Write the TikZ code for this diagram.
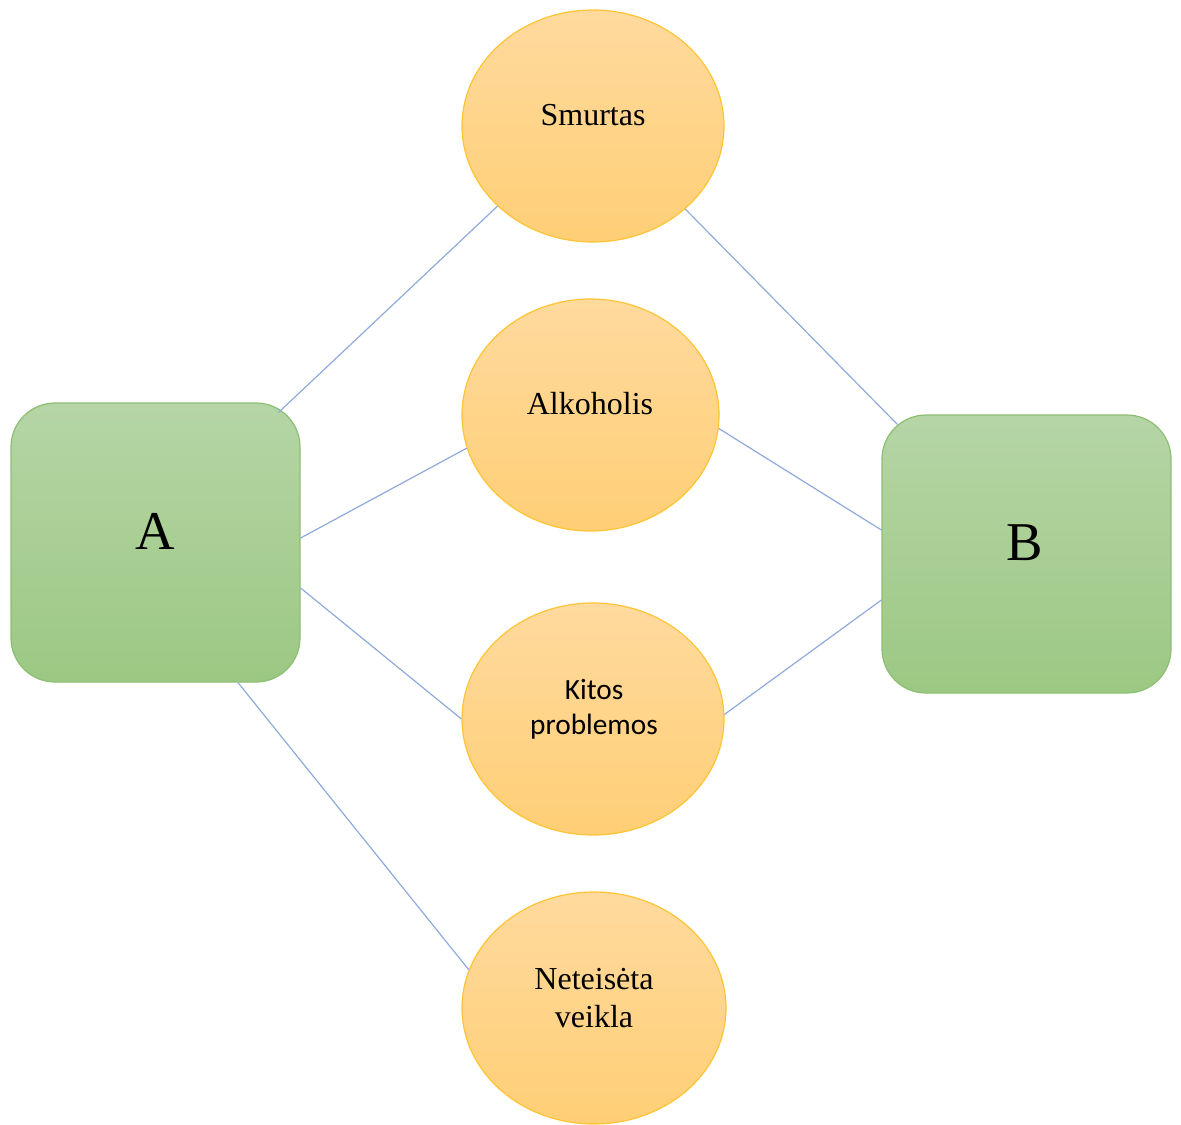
\documentclass[tikz,border=0pt]{standalone}
\usepackage{fontspec}
\setmainfont{Liberation Serif}
\newfontfamily\calibri{Carlito}
\usetikzlibrary{shapes.geometric}
\definecolor{gtop}{HTML}{B5D5A6}
\definecolor{gbot}{HTML}{9CC883}
\definecolor{gline}{HTML}{8DBF72}
\definecolor{otop}{HTML}{FFDA9E}
\definecolor{obot}{HTML}{FFCF76}
\definecolor{oline}{HTML}{FFC433}
\definecolor{connc}{HTML}{8EAADB}
\begin{document}
\begin{tikzpicture}[x=0.75pt,y=-0.75pt,
 box/.style={draw=gline, line width=0.9pt, rounded corners=33pt, top color=gtop, bottom color=gbot, minimum width=216.75pt, minimum height=209.25pt, inner sep=0pt},
 oval/.style={ellipse, draw=oline, line width=0.9pt, top color=otop, bottom color=obot, inner sep=0pt, minimum width=196.5pt, minimum height=174pt},
 connector/.style={draw=connc, line width=0.9pt},
 lbl/.style={anchor=base, inner sep=0pt, font=\fontsize{24}{28.5}\selectfont}]
\useasboundingbox (0,0) rectangle (1181,1124);
\node[box] (A) at (155.5,542.5) {};
\node[box, minimum height=208.5pt] (B) at (1026.5,554) {};
\node[oval] (S) at (593,126) {};
\node[oval, minimum width=192.75pt] (L) at (590.5,415) {};
\node[oval] (K) at (593,719) {};
\node[oval, minimum width=198pt] (N) at (594,1008) {};
\draw[connector] ([shift={(-22,10)}]A.north east) -- (S.220);
\draw[connector] ([shift={(0,-4.5)}]A.east) -- (L.195);
\draw[connector] ([shift={(0,45.5)}]A.east) -- (K.180);
\draw[connector] ([shift={(82.5,0)}]A.south) -- (N.163);
\draw[connector] (S.318) -- ([shift={(16,10)}]B.north west);
\draw[connector] (L.354) -- ([shift={(0,-24)}]B.west);
\draw[connector] (K.2) -- ([shift={(0,46)}]B.west);
\node[lbl] (tS) at (593,125) {Smurtas};
\node[lbl] (tL) at (590,414) {Alkoholis};
\node[lbl, font=\calibri\fontsize{22}{26.25}\selectfont, align=center] (tK) at (594,734) {Kitos\\problemos};
\node[lbl, align=center] (tN) at (594,1027) {Neteisėta\\veikla};
\node[lbl, font=\fontsize{41}{48}\selectfont] (tA) at (155,549) {A};
\node[lbl, font=\fontsize{41}{48}\selectfont] (tB) at (1025,560) {B};
\end{tikzpicture}
\end{document}
